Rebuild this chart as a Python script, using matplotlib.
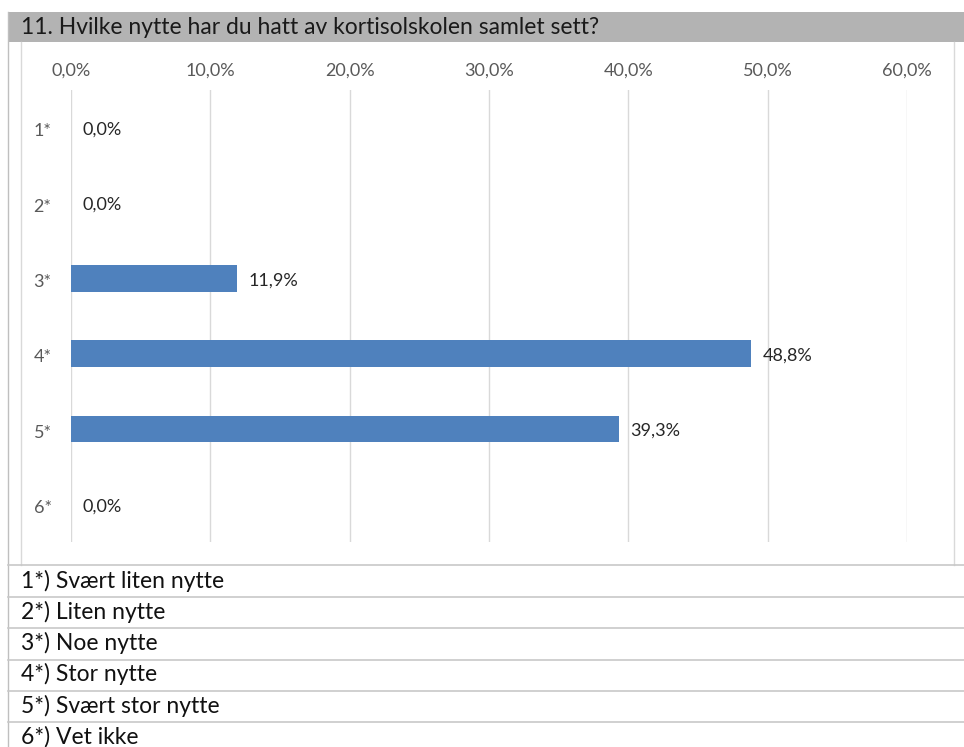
import matplotlib
matplotlib.use("Agg")
import matplotlib.pyplot as plt
from matplotlib.lines import Line2D
from matplotlib.patches import Rectangle
from matplotlib.transforms import ScaledTranslation

W, H = 964, 747
plt.rcParams['font.family'] = ['Lato', 'DejaVu Sans']

title = "11. Hvilke nytte har du hatt av kortisolskolen samlet sett?"
categories = ["1*", "2*", "3*", "4*", "5*", "6*"]
values = [0.0, 0.0, 11.9, 48.8, 39.3, 0.0]
xticks = [0, 10, 20, 30, 40, 50, 60]
legend_rows = ["1*) Svært liten nytte", "2*) Liten nytte", "3*) Noe nytte",
               "4*) Stor nytte", "5*) Svært stor nytte", "6*) Vet ikke"]

fig = plt.figure(figsize=(W / 100, H / 100), dpi=100)

def fx(x):
    return x / W

def fy(y):
    return 1 - y / H

def hline(x0, x1, y, color, lw=1.0):
    fig.add_artist(Line2D([fx(x0), fx(x1)], [fy(y), fy(y)], transform=fig.transFigure,
                          color=color, lw=lw))

def vline(x, y0, y1, color, lw=1.0):
    fig.add_artist(Line2D([fx(x), fx(x)], [fy(y0), fy(y1)], transform=fig.transFigure,
                          color=color, lw=lw))

# title bar
fig.add_artist(Rectangle((fx(8), fy(42)), fx(964) - fx(8), fy(12) - fy(42),
                         transform=fig.transFigure, facecolor="#b3b3b3", edgecolor="none"))
fig.text(fx(21), fy(28), title, fontsize=16.5, color="#1a1a1a", va="center", ha="left")

# frames
vline(8, 12, 747, "#bfbfbf")
vline(21, 42, 565, "#d9d9d9")
vline(954, 42, 565, "#d9d9d9")

# legend rows
row_lines = [565, 597, 628, 660, 691, 722]
row_text = [581, 612, 643, 674, 706, 737]
for yl in row_lines:
    hline(8, 964, yl, "#c8c8c8", lw=1.2)
for t, yt in zip(legend_rows, row_text):
    fig.text(fx(21), fy(yt), t, fontsize=16.5, color="#111111", va="center", ha="left")

# plot
ax = fig.add_axes([fx(71), fy(542), fx(907) - fx(71), fy(90) - fy(542)])
ypos = list(range(len(categories)))
ax.barh(ypos, values, height=0.35, color="#4f81bd", linewidth=0, zorder=3)
ax.set_xlim(0, 60)
ax.set_ylim(5.5, -0.5)
ax.set_xticks(xticks)
ax.set_xticklabels([f"{v:.1f}%".replace(".", ",") for v in xticks], fontsize=13, color="#595959")
ax.xaxis.tick_top()
ax.tick_params(axis="x", length=0, pad=8)
ax.set_yticks(ypos)
ax.set_yticklabels(categories, fontsize=13, color="#595959")
ax.tick_params(axis="y", length=0, pad=14)
shift = ScaledTranslation(0, -2 / 100, fig.dpi_scale_trans)
for lab in ax.get_yticklabels():
    lab.set_transform(lab.get_transform() + shift)
ax.grid(axis="x", color="#d9d9d9", lw=1.0, zorder=0)
for s in ax.spines.values():
    s.set_visible(False)
for yp, v in zip(ypos, values):
    ax.annotate(f"{v:.1f}%".replace(".", ","), (v, yp), xytext=(8.5, -1.5), textcoords="offset points",
                va="center", ha="left", fontsize=13, color="#262626")

fig.savefig("out.png", dpi=100)
